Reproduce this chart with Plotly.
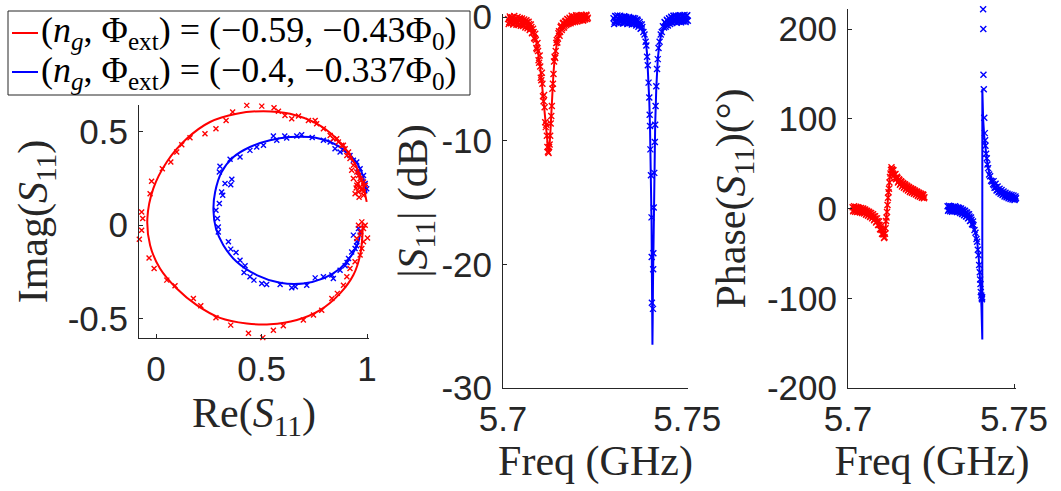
import plotly.graph_objects as go

# ---------------------------------------------------------------- data
RED = "#ff0000"
BLUE = "#0000ff"
INK = "#262626"

legend_red = "(<i>n<sub>g</sub></i>, Φ<sub>ext</sub>) = (−0.59, −0.43Φ<sub>0</sub>)"
legend_blue = "(<i>n<sub>g</sub></i>, Φ<sub>ext</sub>) = (−0.4, −0.337Φ<sub>0</sub>)"

# IQ plane: measured points (Re, Im)
iq_red_re = [0.430, 0.501, 0.559, 0.363, 0.580, 0.611, 0.643, 0.675, 0.722, 0.754, 0.761,
             0.332, 0.284, 0.232, 0.161, 0.122, 0.098, 0.070, 0.030, -0.021, -0.028,
             -0.068, -0.063, -0.068, -0.079, -0.033, -0.009, 0.051, 0.090, 0.177, 0.212,
             0.284, 0.354, 0.438, 0.506, 0.556, 0.603, 0.698, 0.746, 0.785, 0.833, 0.859,
             0.888, 0.904, 0.919, 0.943, 0.967, 0.975, 0.983, 1.002, 0.967, 0.983, 0.959,
             0.975, 0.951, 0.991,
             0.793, 0.825, 0.840, 0.864, 0.880, 0.896, 0.912, 0.904, 0.919, 0.935, 0.927,
             0.951, 0.959, 0.967, 0.983, 0.951, 0.975, 0.943, 0.983, 0.967, 0.991, 0.959,
             0.935, 0.888, 0.856, 0.972, 0.962, 0.978, 0.955, 0.985, 0.948, 0.970]
iq_red_im = [0.642, 0.638, 0.629, 0.606, 0.611, 0.588, 0.570, 0.585, 0.561, 0.561, 0.544,
             0.561, 0.517, 0.490, 0.469, 0.431, 0.392, 0.339, 0.303, 0.235, 0.169,
             0.071, 0.036, -0.027, -0.075, -0.175, -0.232, -0.294, -0.324, -0.392, -0.431,
             -0.496, -0.535, -0.578, -0.602, -0.563, -0.538, -0.508, -0.481, -0.455, -0.392, -0.365,
             -0.321, -0.276, -0.232, -0.196, -0.160, -0.125, -0.089, -0.068, -0.053, -0.018, 0.000,
             0.018, -0.071, 0.000,
             0.517, 0.481, 0.463, 0.446, 0.428, 0.410, 0.392, 0.374, 0.357, 0.321, 0.294,
             0.285, 0.267, 0.250, 0.232, 0.214, 0.187, 0.169, 0.160, 0.205, 0.214, 0.178,
             0.250, 0.428, 0.463, 0.240, 0.150, 0.195, 0.225, 0.180, 0.200, -0.035]

iq_blue_re = [0.556, 0.619, 0.667, 0.690, 0.572, 0.509, 0.477, 0.445, 0.398, 0.351, 0.303,
              0.300, 0.359, 0.327, 0.354, 0.311, 0.316, 0.300, 0.284, 0.291, 0.295, 0.295,
              0.343, 0.354, 0.379, 0.398, 0.422, 0.417, 0.445, 0.464, 0.501, 0.524, 0.588,
              0.643, 0.714, 0.754, 0.793, 0.833, 0.840, 0.872, 0.896, 0.912, 0.927, 0.943,
              0.951, 0.935, 0.959, 0.967,
              0.793, 0.825, 0.848, 0.872, 0.888, 0.919, 0.935, 0.951, 0.959, 0.967, 0.983,
              0.991, 0.998, 0.740, 0.610, 0.660, 0.905, 0.950]
iq_blue_im = [0.478, 0.467, 0.478, 0.485, 0.455, 0.428, 0.419, 0.401, 0.365, 0.353, 0.316,
              0.285, 0.246, 0.223, 0.217, 0.178, 0.160, 0.116, 0.080, 0.036, -0.009, -0.036,
              -0.089, -0.128, -0.146, -0.187, -0.217, -0.253, -0.276, -0.294, -0.312, -0.317, -0.317,
              -0.335, -0.321, -0.282, -0.276, -0.267, -0.285, -0.241, -0.217, -0.178, -0.143, -0.125,
              -0.089, -0.053, -0.018, -0.036,
              0.455, 0.446, 0.410, 0.392, 0.401, 0.374, 0.348, 0.339, 0.285, 0.303, 0.267,
              0.223, 0.196, 0.470, 0.478, -0.330, -0.200, -0.110]

# IQ plane: fitted resonance circles
fit_red_re = [0.998, 0.967, 0.919, 0.856, 0.761, 0.635, 0.509, 0.382, 0.256, 0.145, 0.051,
              -0.013, -0.041, -0.028, 0.019, 0.098, 0.193, 0.303, 0.430, 0.540, 0.667,
              0.777, 0.872, 0.935, 0.967, 0.978, 0.978]
fit_red_im = [0.125, 0.267, 0.374, 0.463, 0.544, 0.597, 0.611, 0.597, 0.553, 0.463, 0.339,
              0.196, 0.036, -0.107, -0.232, -0.339, -0.428, -0.496, -0.526, -0.531, -0.508,
              -0.455, -0.365, -0.267, -0.160, -0.053, 0.010]
fit_blue_re = [0.998, 0.967, 0.904, 0.825, 0.730, 0.635, 0.540, 0.445, 0.367, 0.311, 0.280,
               0.272, 0.284, 0.319, 0.382, 0.477, 0.588, 0.698, 0.793, 0.872, 0.927, 0.959,
               0.967]
fit_blue_im = [0.170, 0.303, 0.392, 0.446, 0.472, 0.472, 0.455, 0.419, 0.365, 0.285, 0.178,
               0.080, -0.018, -0.107, -0.196, -0.267, -0.308, -0.312, -0.285, -0.232, -0.160,
               -0.089, -0.036]

# Frequency sweep of the first resonance (GHz) with |S11| (dB) and phase (deg)
freq_red = [5.7014, 5.70155, 5.7017, 5.70185, 5.7020, 5.70215, 5.7023, 5.70245, 5.7026, 5.70275,
            5.7029, 5.70305, 5.7032, 5.70335, 5.7035, 5.70365, 5.7038, 5.70395, 5.7041, 5.70425,
            5.7044, 5.70455, 5.7047, 5.70485, 5.7050, 5.70515, 5.7053, 5.70545, 5.7056, 5.70575,
            5.7059, 5.70605, 5.7062, 5.70635, 5.7065, 5.70665, 5.7068, 5.70695, 5.7071, 5.70725,
            5.7074, 5.70755, 5.7077, 5.70785, 5.7080, 5.70815, 5.7083, 5.70845, 5.7086, 5.70875,
            5.7089, 5.70905, 5.7092, 5.70935, 5.7095, 5.70965, 5.7098, 5.70995, 5.7101, 5.71025,
            5.7104, 5.71055, 5.7107, 5.71085, 5.7110, 5.71115, 5.7113, 5.71145, 5.7116, 5.71175,
            5.7119, 5.71205, 5.7122, 5.71235, 5.7125, 5.71265, 5.7128, 5.71295, 5.7131, 5.71325,
            5.7134, 5.71355, 5.7137, 5.71385, 5.7140, 5.71415, 5.7143, 5.71445, 5.7146, 5.71475,
            5.7149, 5.71505, 5.7152, 5.71535, 5.7155, 5.71565, 5.7158, 5.71595, 5.7161, 5.71625,
            5.7164, 5.71655, 5.7167, 5.71685, 5.7170, 5.71715, 5.7173, 5.71745, 5.7176, 5.71775,
            5.7179, 5.71805, 5.7182, 5.71835, 5.7185, 5.71865, 5.7188, 5.71895, 5.7191, 5.71925,
            5.7194, 5.71955, 5.7197, 5.71985, 5.7200, 5.72015, 5.7203, 5.72045, 5.7206, 5.72075,
            5.7209, 5.72105, 5.7212, 5.72135, 5.7215, 5.72165, 5.7218, 5.72195, 5.7221, 5.72225,
            5.7224, 5.72255, 5.7227, 5.72285, 5.7230]
mag_red = [-0.15, -0.55, -0.42, 0.05, -0.10, -0.50, -0.35, -0.02, -0.05, -0.60,
           -0.30, 0.08, -0.48, -0.20, -0.12, -0.62, -0.38, 0.00, -0.22, -0.65,
           -0.55, -0.08, -0.18, -0.70, -0.45, -0.12, -0.30, -0.72, -0.62, -0.20,
           -0.35, -0.85, -0.58, -0.25, -0.40, -0.90, -0.75, -0.38, -0.55, -1.05,
           -0.95, -0.60, -0.80, -1.30, -1.25, -0.95, -1.20, -1.70, -1.75, -1.35,
           -1.85, -2.50, -2.60, -2.10, -2.75, -3.50, -3.70, -3.10, -4.00, -4.90,
           -5.10, -4.50, -5.40, -6.40, -6.80, -6.30, -7.30, -8.50, -8.90, -8.70,
           -9.60, -10.50, -10.90, -11.00, -10.50, -10.30, -9.60, -8.60, -8.00, -7.20,
           -5.80, -5.40, -4.60, -3.60, -3.20, -3.30, -2.75, -2.10, -1.85, -2.05,
           -1.75, -1.30, -1.15, -1.50, -1.20, -0.80, -0.70, -1.05, -0.90, -0.50,
           -0.45, -0.85, -0.70, -0.35, -0.30, -0.65, -0.55, -0.15, -0.20, -0.55,
           -0.45, -0.05, -0.15, -0.50, -0.38, 0.10, -0.05, -0.42, -0.30, 0.05,
           -0.10, -0.40, -0.28, 0.15, 0.05, -0.35, -0.22, 0.12, -0.08, -0.30,
           0.10, -0.25, -0.18, 0.18, 0.02, -0.28, -0.25, 0.15, 0.08, -0.20,
           -0.12, 0.20, 0.12, -0.15, -0.05]
phase_red = [1.5, -3.0, -2.0, 2.5, 0.5, -3.5, -2.5, 2.0, 1.0, -4.0,
             -1.5, 1.5, -3.5, 0.5, 0.0, -4.5, -2.5, 0.5, -1.0, -5.0,
             -4.0, 0.0, -1.5, -5.5, -4.5, -1.0, -2.5, -7.0, -6.0, -2.5,
             -4.0, -8.0, -7.0, -3.5, -5.0, -9.5, -8.5, -5.0, -7.0, -11.0,
             -10.0, -6.5, -8.5, -13.0, -12.0, -8.5, -11.0, -15.5, -14.5, -11.0,
             -14.0, -18.5, -18.0, -14.5, -18.5, -23.0, -23.0, -19.5, -24.0, -28.0,
             -28.5, -24.5, -29.0, -33.0, -32.0, -28.0, -22.0, -14.0, -10.0, -4.0,
             4.0, 12.0, 18.0, 22.0, 29.0, 35.0, 39.0, 43.0, 46.0, 44.0,
             43.0, 39.0, 42.5, 37.0, 38.0, 34.0, 38.5, 32.5, 33.5, 35.5,
             34.0, 29.0, 30.0, 32.5, 31.5, 26.5, 27.5, 30.5, 29.5, 24.5,
             25.5, 28.5, 27.5, 23.0, 24.0, 27.0, 26.0, 21.5, 22.5, 25.5,
             24.5, 20.0, 21.0, 24.0, 23.0, 18.5, 19.5, 22.5, 21.5, 17.5,
             18.5, 21.5, 20.5, 16.5, 17.5, 20.0, 19.0, 15.5, 16.0, 19.0,
             18.0, 14.0, 15.0, 17.5, 17.0, 13.0, 14.0, 16.5, 16.0, 12.0,
             13.0, 15.5, 15.0, 11.5, 12.5]

freq_red_fit = [5.7014, 5.7040, 5.7060, 5.7070, 5.7078, 5.7084, 5.7090, 5.7095, 5.7100, 5.7105,
                5.7110, 5.7115, 5.7119, 5.7122, 5.71235, 5.7125, 5.7128, 5.7131, 5.7134, 5.7137,
                5.7141, 5.7145, 5.7150, 5.7156, 5.7165, 5.7180, 5.7200, 5.7230]
mag_red_fit = [-0.22, -0.28, -0.45, -0.62, -0.85, -1.2, -1.9, -2.7, -3.8, -5.2,
               -6.9, -8.6, -10.0, -10.8, -11.0, -10.7, -9.7, -7.9, -6.0, -4.5,
               -3.1, -2.2, -1.5, -1.0, -0.6, -0.32, -0.18, -0.08]
freq_red_pfit = [5.7014, 5.7040, 5.7060, 5.7075, 5.7085, 5.7092, 5.7098, 5.7104, 5.7109, 5.7111,
                 5.7114, 5.7118, 5.7122, 5.7126, 5.7130, 5.7133, 5.7138, 5.7145, 5.7155, 5.7170,
                 5.7190, 5.7210, 5.7230]
phase_red_fit = [-0.5, -2.0, -4.5, -8.5, -12.5, -17.0, -22.0, -27.5, -31.0, -30.0,
                 -17.0, 2.0, 20.0, 35.0, 44.0, 43.0, 39.5, 35.0, 30.5, 26.0,
                 21.5, 18.0, 15.0]

# Frequency sweep of the second resonance (GHz)
freq_blue = [5.7300, 5.73015, 5.7303, 5.73045, 5.7306, 5.73075, 5.7309, 5.73105, 5.7312, 5.73135,
             5.7315, 5.73165, 5.7318, 5.73195, 5.7321, 5.73225, 5.7324, 5.73255, 5.7327, 5.73285,
             5.7330, 5.73315, 5.7333, 5.73345, 5.7336, 5.73375, 5.7339, 5.73405, 5.7342, 5.73435,
             5.7345, 5.73465, 5.7348, 5.73495, 5.7351, 5.73525, 5.7354, 5.73555, 5.7357, 5.73585,
             5.7360, 5.73615, 5.7363, 5.73645, 5.7366, 5.73675, 5.7369, 5.73705, 5.7372, 5.73735,
             5.7375, 5.73765, 5.7378,
             5.7381, 5.7384, 5.7387, 5.7389, 5.7391, 5.7393, 5.7395, 5.7397, 5.7398, 5.7399,
             5.7400, 5.74015, 5.7403, 5.74035, 5.7404,
             5.7407, 5.74075, 5.7408, 5.7409, 5.74105, 5.7412, 5.7413, 5.7414, 5.7416, 5.7418,
             5.7420, 5.7422, 5.7425, 5.7428, 5.7431, 5.7434,
             5.7437, 5.74385, 5.7440, 5.74415, 5.7443, 5.74445, 5.7446, 5.74475, 5.7449, 5.74505,
             5.7452, 5.74535, 5.7455, 5.74565, 5.7458, 5.74595, 5.7461, 5.74625, 5.7464, 5.74655,
             5.7467, 5.74685, 5.7470, 5.74715, 5.7473, 5.74745, 5.7476, 5.74775, 5.7479, 5.74805,
             5.7482, 5.74835, 5.7485, 5.74865, 5.7488, 5.74895, 5.7491, 5.74925, 5.7494, 5.74955,
             5.7497, 5.74985, 5.7500, 5.75015, 5.7503, 5.75045, 5.7506, 5.75075, 5.7509]
mag_blue = [-0.10, -0.55, -0.38, 0.08, 0.05, -0.45, -0.28, 0.12, -0.12, -0.50,
            -0.45, 0.05, 0.10, -0.40, -0.25, 0.02, -0.05, -0.52, -0.40, 0.06,
            0.02, -0.45, -0.30, 0.00, -0.15, -0.55, -0.48, -0.05, 0.00, -0.50,
            -0.32, -0.08, -0.18, -0.60, -0.50, -0.10, -0.08, -0.55, -0.35, -0.12,
            -0.25, -0.68, -0.55, -0.20, -0.30, -0.78, -0.65, -0.40, -0.55, -0.95,
            -0.90, -0.60, -0.80,
            -1.20, -1.40, -2.00, -2.30, -3.20, -3.90, -5.30, -6.50, -7.90, -8.80,
            -10.70, -12.80, -16.20, -19.40, -23.10,
            -23.60, -20.40, -19.10, -15.40, -12.60, -10.10, -8.70, -7.20, -5.60, -4.20,
            -3.40, -2.50, -2.00, -1.40, -1.20, -0.75,
            -0.85, -0.40, -0.45, -0.78, -0.65, -0.22, -0.30, -0.68, -0.50, -0.10,
            -0.15, -0.55, -0.38, 0.02, -0.05, -0.48, -0.30, 0.10, 0.08, -0.40,
            -0.25, 0.12, -0.02, -0.45, -0.35, 0.05, 0.10, -0.38, -0.20, 0.15,
            -0.05, -0.42, -0.30, 0.08, 0.12, -0.35, -0.15, 0.18, 0.00, -0.40,
            -0.28, 0.10, 0.15, -0.30, -0.10, 0.20, 0.05, -0.25, -0.18]
phase_blue = [2.5, -2.5, -1.5, 3.0, 1.0, -3.0, -2.0, 2.5, 0.5, -3.5,
              -2.5, 2.0, 1.5, -3.0, -1.0, 2.5, -3.0, 1.5, 0.0, -4.0,
              -2.0, 1.0, -3.5, 0.5, -0.5, -5.0, -4.0, 0.0, -2.0, -6.0,
              -5.5, -1.5, -3.0, -7.5, -7.0, -2.5, -4.5, -9.0, -8.5, -4.5,
              -6.5, -11.0, -10.5, -6.5, -9.0, -14.0, -13.5, -10.0, -12.5, -17.5,
              -17.5, -14.5, -18.5,
              -24.0, -27.0, -34.0, -37.0, -46.0, -52.0, -63.0, -71.0, -79.0, -84.0,
              -93.0, -97.0, -100.0, -101.0, -99.0,
              222.0, 200.0, 149.0, 133.0, 101.0, 84.0, 76.0, 70.0, 61.0, 56.0,
              49.0, 45.0, 38.0, 36.0, 31.0, 30.0,
              27.0, 30.5, 26.0, 23.0, 24.0, 27.5, 23.5, 20.0, 21.0, 24.5,
              21.0, 18.0, 19.0, 22.0, 19.0, 16.5, 17.5, 20.5, 17.5, 15.0,
              16.0, 19.0, 16.5, 13.5, 14.5, 17.5, 15.0, 12.5, 13.5, 16.5,
              14.0, 11.5, 12.5, 15.5, 13.0, 10.5, 12.0, 15.0, 12.5, 10.0,
              11.0, 14.5, 12.0, 9.5, 10.5, 13.5, 11.5, 9.0, 10.0]

freq_blue_fit = [5.7300, 5.7350, 5.7365, 5.7375, 5.7382, 5.7387, 5.7391, 5.7394, 5.7397, 5.7399,
                 5.7401, 5.7402, 5.7403, 5.7404, 5.74048, 5.74055, 5.74062, 5.7407, 5.7408, 5.7409,
                 5.7411, 5.7413, 5.7416, 5.7420, 5.7425, 5.7432, 5.7440, 5.7455, 5.7480, 5.7509]
mag_blue_fit = [-0.2, -0.25, -0.4, -0.7, -1.1, -1.8, -3.0, -4.5, -6.8, -9.0,
                -12.0, -14.0, -16.5, -20.5, -24.5, -26.5, -24.5, -21.5, -18.5, -15.5,
                -11.5, -8.6, -5.7, -3.4, -2.0, -1.1, -0.6, -0.3, -0.15, -0.08]
freq_blue_pfit = [5.7300, 5.7330, 5.7345, 5.7355, 5.7365, 5.7372, 5.7378, 5.7384, 5.7389, 5.7393,
                  5.7397, 5.7400, 5.7402, 5.74035, 5.74045, 5.74046, 5.74055, 5.7407, 5.7410, 5.7414,
                  5.7418, 5.7424, 5.7430, 5.7440, 5.7450, 5.7465, 5.7480, 5.7495, 5.7509]
phase_blue_fit = [0.5, -0.5, -3.5, -6.0, -10.0, -14.5, -19.5, -27.0, -37.0, -51.0,
                  -70.0, -92.0, -110.0, -125.0, -146.0, 133.0, 115.0, 100.0, 82.0, 68.0,
                  55.0, 42.0, 33.0, 25.0, 20.0, 16.0, 13.5, 11.5, 10.0]

# Axis ticks
iq_x_ticks, iq_x_text = [0, 0.5, 1], ["0", "0.5", "1"]
iq_y_ticks, iq_y_text = [-0.5, 0, 0.5], ["-0.5", "0", "0.5"]
mag_y_ticks, mag_y_text = [-30, -20, -10, 0], ["-30", "-20", "-10", "0"]
ph_y_ticks, ph_y_text = [-200, -100, 0, 100, 200], ["-200", "-100", "0", "100", "200"]
f_ticks, f_text = [5.7, 5.75], ["5.7", "5.75"]

# ---------------------------------------------------------------- figure
W, H = 1061, 491
fig = go.Figure()


def add_markers(x, y, color, xa, ya, size):
    fig.add_trace(go.Scatter(
        x=x, y=y, mode="markers", xaxis=xa, yaxis=ya, showlegend=False,
        cliponaxis=False, hoverinfo="skip",
        marker=dict(symbol="x-thin", size=size, color=color,
                    line=dict(width=1.4, color=color))))


def add_line(x, y, color, xa, ya, shape="linear"):
    fig.add_trace(go.Scatter(
        x=x, y=y, mode="lines", xaxis=xa, yaxis=ya, showlegend=False,
        hoverinfo="skip", line=dict(color=color, width=2, shape=shape)))


# IQ panel
add_markers(iq_blue_re, iq_blue_im, BLUE, "x", "y", 5)
add_line(fit_blue_re, fit_blue_im, BLUE, "x", "y", "spline")
add_markers(iq_red_re, iq_red_im, RED, "x", "y", 5)
add_line(fit_red_re, fit_red_im, RED, "x", "y", "spline")

# magnitude panel
add_markers(freq_red, mag_red, RED, "x2", "y2", 6)
add_line(freq_red_fit, mag_red_fit, RED, "x2", "y2")
add_markers(freq_blue, mag_blue, BLUE, "x2", "y2", 6)
add_line(freq_blue_fit, mag_blue_fit, BLUE, "x2", "y2")

# phase panel
add_markers(freq_red, phase_red, RED, "x3", "y3", 6)
add_line(freq_red_pfit, phase_red_fit, RED, "x3", "y3")
add_markers(freq_blue, phase_blue, BLUE, "x3", "y3", 6)
add_line(freq_blue_pfit, phase_blue_fit, BLUE, "x3", "y3")

SERIF = "Liberation Serif, Times New Roman, serif"
tick_font = dict(family="Liberation Sans, Arial, sans-serif", size=35, color=INK)
title_font = dict(family=SERIF, size=42, color=INK)
axis_style = dict(showline=True, linecolor=INK, linewidth=1, ticks="inside", ticklen=4,
                  tickcolor=INK, tickwidth=1, showgrid=False, zeroline=False,
                  tickfont=tick_font, mirror=False, automargin=False,
                  ticklabeloverflow="allow")


def px_x(a, b):
    return [a / W, b / W]


def px_y(top, bottom):
    return [1 - bottom / H, 1 - top / H]


fig.update_layout(
    width=W, height=H, margin=dict(l=0, r=0, t=0, b=0),
    paper_bgcolor="white", plot_bgcolor="white", showlegend=False,
    xaxis=dict(domain=px_x(139, 369), range=[-0.0806, 1.009], anchor="y",
               tickvals=iq_x_ticks, ticktext=iq_x_text,
               title=dict(text="Re(<i>S</i><sub>11</sub>)", font=title_font, standoff=10),
               **axis_style),
    yaxis=dict(domain=px_y(105, 338), range=[-0.604, 0.644], anchor="x",
               tickvals=iq_y_ticks, ticktext=iq_y_text, ticklabelstandoff=3,
               title=dict(text="Imag(<i>S</i><sub>11</sub>)", font=title_font, standoff=6),
               **axis_style),
    xaxis2=dict(domain=px_x(503, 688), range=[5.7, 5.7502], anchor="y2",
                tickvals=f_ticks, ticktext=f_text,
                title=dict(text="Freq (GHz)", font=title_font, standoff=8),
                **axis_style),
    yaxis2=dict(domain=px_y(14, 388), range=[-30, 0.25], anchor="x2",
                tickvals=mag_y_ticks, ticktext=mag_y_text, ticklabelstandoff=3,
                title=dict(text="|<i>S</i><sub>11</sub>| (dB)", font=title_font, standoff=0),
                **axis_style),
    xaxis3=dict(domain=px_x(848, 1016), range=[5.7, 5.7506], anchor="y3",
                tickvals=f_ticks, ticktext=f_text,
                title=dict(text="Freq (GHz)", font=title_font, standoff=8),
                **axis_style),
    yaxis3=dict(domain=px_y(9, 388), range=[-200, 222.3], anchor="x3",
                tickvals=ph_y_ticks, ticktext=ph_y_text, ticklabelstandoff=3,
                title=dict(text="Phase(<i>S</i><sub>11</sub>)(°)", font=title_font, standoff=8),
                **axis_style),
)

# legend box with the two series keys
legend_rows = [(legend_red, RED, 33), (legend_blue, BLUE, 72)]
fig.add_shape(type="rect", xref="paper", yref="paper",
              x0=8 / W, x1=470 / W, y0=1 - 95 / H, y1=1 - 11 / H,
              line=dict(color=INK, width=1), fillcolor="white", layer="above")
for text, color, y_px in legend_rows:
    fig.add_shape(type="line", xref="paper", yref="paper",
                  x0=12 / W, x1=38 / W, y0=1 - y_px / H, y1=1 - y_px / H,
                  line=dict(color=color, width=2), layer="above")
    fig.add_annotation(text=text, xref="paper", yref="paper", x=39 / W, y=1 - y_px / H,
                       xanchor="left", yanchor="middle", showarrow=False,
                       font=dict(family=SERIF, size=36, color="black"))

fig.write_html("out.html")
